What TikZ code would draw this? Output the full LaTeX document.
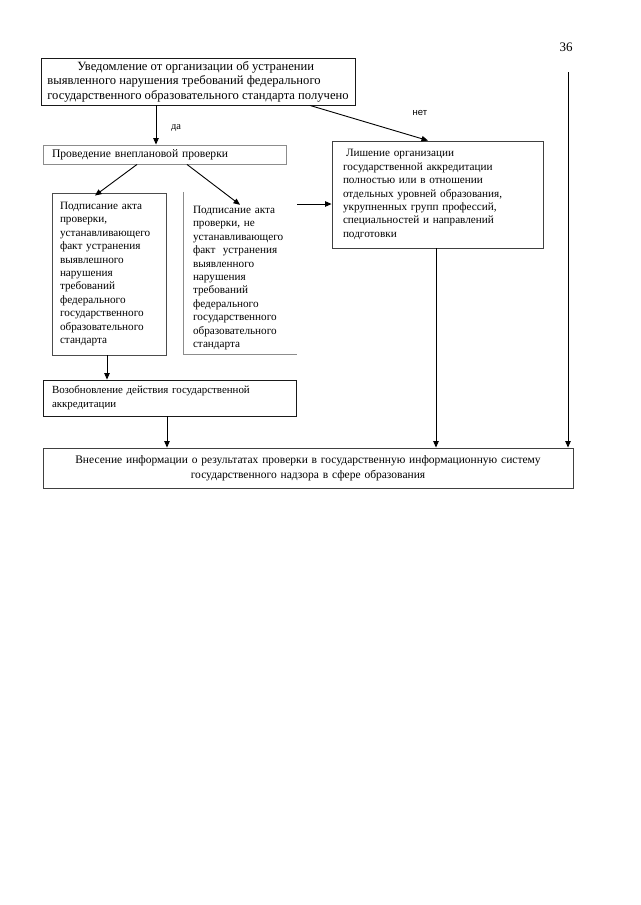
\documentclass[tikz,border=0pt]{standalone}
\usepackage{fontspec}
\setmainfont{Liberation Serif}
\newfontfamily\sansnet{Liberation Sans}
\usetikzlibrary{arrows.meta,calc,shadows}
\begin{document}
\begin{tikzpicture}[x=1pt,y=-1pt,
  every node/.style={font=\fontsize{11.2}{13.4}\selectfont},
  box/.style={draw=black!75,line width=0.9pt,rectangle,inner ysep=2pt,align=left},
  lightbox/.style={draw=black!45,line width=0.9pt,rectangle,inner ysep=2pt,align=left},
  arr/.style={line width=0.9pt,-{Triangle[length=6.5pt,width=5.5pt]}},
  lbl/.style={font=\fontsize{10.5}{12}\selectfont,inner sep=0pt}]
\useasboundingbox[fill=white] (0,0) rectangle (640,905);
\node[lbl,font=\fontsize{13}{14}\selectfont] (pg) at (566,47) {36};
\node[box,draw=black!90,minimum width=314pt,minimum height=47pt,inner xsep=1pt,font=\fontsize{12.6}{14.4}\selectfont] (top) at (198,81.5)
 {\hspace*{30pt}Уведомление от организации об устранении\\выявленного нарушения требований федерального\\государственного образовательного стандарта получено};
\node[lightbox,minimum width=243pt,minimum height=19pt,inner xsep=9pt,text width=225pt,font=\fontsize{11.6}{13.4}\selectfont] (prov) at (164.5,154.5)
 {Проведение внеплановой проверки};
\node[box,draw=black!70,fill=white,drop shadow={shadow xshift=1.2pt,shadow yshift=-1.2pt,opacity=0.35},minimum width=114pt,minimum height=162pt,inner xsep=8pt,text width=98pt] (lb) at (109,274)
 {Подписание акта\\проверки,\\устанавливающего\\факт устранения\\выявлешного\\нарушения\\требований\\федерального\\государственного\\образовательного\\стандарта};
\node[rectangle,minimum width=113pt,minimum height=152pt,inner xsep=9pt,text width=95pt,align=left] (rb) at (240.5,278)
 {Подписание акта\\проверки, не\\устанавливающего\\факт \ устранения\\выявленного\\нарушения\\требований\\федерального\\государственного\\образовательного\\стандарта};
\draw[black!45,line width=0.9pt] ([yshift=10pt]rb.north west) -- (rb.south west) -- (rb.south east);
\node[box,minimum width=211pt,minimum height=107pt,inner xsep=11pt,text width=189pt] (lish) at (437.5,194.5)
 {\hspace*{3pt}Лишение организации\\государственной аккредитации\\полностью или в отношении\\отдельных уровней образования,\\укрупненных групп профессий,\\специальностей и направлений\\подготовки};
\node[box,draw=black!90,minimum width=253pt,minimum height=36pt,inner xsep=9pt,text width=235pt,font=\fontsize{10.9}{14}\selectfont] (voz) at (169.5,398)
 {Возобновление действия государственной\\аккредитации};
\node[box,align=center,minimum width=530pt,minimum height=40pt,text width=516pt,font=\fontsize{11.5}{14.6}\selectfont] (vn) at (308,468)
 {Внесение информации о результатах проверки в государственную информационную систему\\государственного надзора в сфере образования};
% helper coordinates
\coordinate (xda) at (156,0);
\coordinate (xnet1) at (310,0);
\coordinate (xnet2) at (428,0);
\coordinate (xp1) at (137,0);
\coordinate (xp2) at (95,0);
\coordinate (xp3) at (187,0);
\coordinate (xp4) at (240,0);
\coordinate (yr) at (0,204);
\coordinate (xl) at (107,0);
\coordinate (xv) at (167,0);
\coordinate (xr) at (436,0);
\coordinate (rstart) at (568,72);
% connectors
\draw[arr] (top.south -| xda) -- (prov.north -| xda);
\node[lbl] (da) at (176,128) {да};
\draw[arr] (top.south -| xnet1) -- (lish.north -| xnet2);
\node[lbl,font=\sansnet\fontsize{9.5}{11}\selectfont] (net) at (420,113) {нет};
\draw[arr] (prov.south -| xp1) -- ([yshift=-3pt]lb.north -| xp2);
\draw[arr] (prov.south -| xp3) -- ([yshift=-3pt]rb.north -| xp4);
\draw[arr] (rb.east |- yr) -- (lish.west |- yr);
\draw[arr] (lb.south -| xl) -- (voz.north -| xl);
\draw[arr] (voz.south -| xv) -- (vn.north -| xv);
\draw[arr] (lish.south -| xr) -- (vn.north -| xr);
\draw[arr] (rstart) -- (vn.north -| rstart);
\end{tikzpicture}
\end{document}
